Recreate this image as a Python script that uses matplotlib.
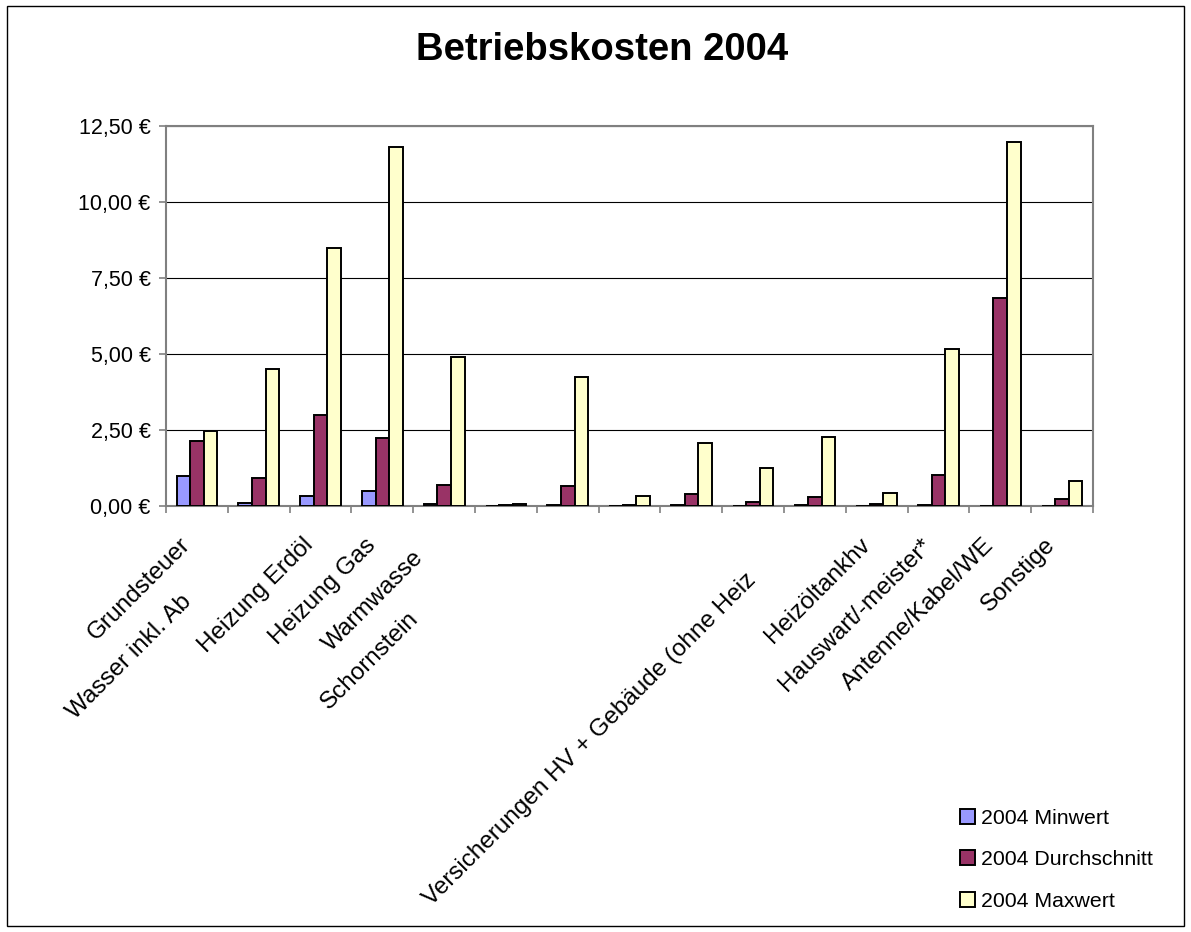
import matplotlib
matplotlib.use("Agg")
import matplotlib.pyplot as plt
from matplotlib.patches import Rectangle
from matplotlib.ticker import FuncFormatter
import numpy as np

plt.rcParams['font.family'] = ['Liberation Sans', 'DejaVu Sans']

# Beschriftungen so, wie sie im Diagramm sichtbar sind (teils abgeschnitten)
kategorien = ["Grundsteuer", "Wasser inkl. Ab", "Heizung Erdöl", "Heizung Gas", "Warmwasse",
              "Schornstein", "", "", "", "", "Versicherungen HV + Gebäude (ohne Heiz",
              "Heizöltankhv", "Hauswart/-meister*", "Antenne/Kabel/WE", "Sonstige"]

minwert = [0.99, 0.10, 0.33, 0.49, 0.05, 0.01, 0.03, 0.01, 0.02, 0.01, 0.03, 0.01, 0.03, 0.01, 0.01]
durchschnitt = [2.14, 0.92, 3.00, 2.24, 0.69, 0.04, 0.66, 0.04, 0.41, 0.14, 0.31, 0.08, 1.02, 6.84, 0.24]
maxwert = [2.47, 4.50, 8.49, 11.80, 4.90, 0.08, 4.24, 0.33, 2.07, 1.25, 2.27, 0.42, 5.16, 11.97, 0.81]

serien = ["2004 Minwert", "2004 Durchschnitt", "2004 Maxwert"]
farben = ["#9999FF", "#993366", "#FFFFCC"]

# abgeschnittene Beschriftungen liegen weiter unten auf ihrer Diagonale (Pixel)
versatz = {1: (-60, 57), 4: (-14, 13), 5: (-80, 74), 10: (-52, 35)}

fig = plt.figure(figsize=(11.91, 9.32), dpi=100)
ax = fig.add_axes([0.1394, 0.4571, 0.7783, 0.4077])

x = np.arange(len(kategorien))
breite = 0.22
for k, (werte, farbe, name) in enumerate(zip([minwert, durchschnitt, maxwert], farben, serien)):
    ax.bar(x + (k - 1) * breite, werte, breite, color=farbe, edgecolor='black',
           linewidth=1.4, label=name, zorder=3)

ax.set_xlim(-0.5, len(kategorien) - 0.5)
ax.set_ylim(0, 12.5)
ax.set_yticks(np.arange(0, 12.51, 2.5))
ax.yaxis.set_major_formatter(FuncFormatter(lambda v, p: f"{v:.2f}".replace('.', ',') + " €"))
ax.yaxis.grid(True, color='black', linewidth=0.8)
ax.set_axisbelow(True)

ax.set_xticks(np.arange(-0.5, len(kategorien), 1))
ax.tick_params(axis='x', length=5, width=1.2, color='#808080', labelbottom=False)
ax.tick_params(axis='y', length=5, width=1.2, color='#808080', labelsize=15.5, pad=6)
for s in ax.spines.values():
    s.set_color('#808080')
    s.set_linewidth(1.5)

# Kategorienbeschriftung, 45 Grad gedreht
for i, txt in enumerate(kategorien):
    dx, dy = versatz.get(i, (0, 0))
    ax.annotate(txt, xy=(i, 0), xycoords='data',
                xytext=((-6 + dx) * 0.72, (-40 - dy) * 0.72), textcoords='offset points',
                rotation=45, rotation_mode='anchor', ha='right', va='baseline',
                fontsize=17.5, annotation_clip=False)

fig.text(0.5055, 0.946, "Betriebskosten 2004", ha='center', va='center',
         fontsize=27.5, fontweight='bold')

fig.legend(loc='upper left', bbox_to_anchor=(0.806, 0.132), frameon=False, fontsize=15.3,
           handlelength=0.7, handleheight=0.7, handletextpad=0.3, labelspacing=1.05,
           borderpad=0, borderaxespad=0)

fig.add_artist(Rectangle((7 / 1191, 6 / 932), 1177 / 1191, 920 / 932, transform=fig.transFigure,
                         fill=False, edgecolor='black', linewidth=1))

fig.savefig('out.png', dpi=100)
